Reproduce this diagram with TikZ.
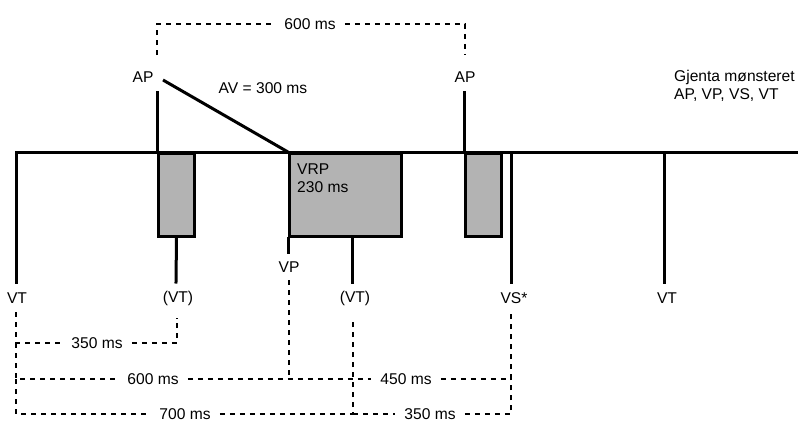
\documentclass[tikz,border=0pt]{standalone}
\usepackage{fontspec}
\setmainfont{Liberation Sans}
\usepackage{xcolor}
\usepackage{tikz}
\usetikzlibrary{positioning, calc}
\definecolor{vrpGray}{HTML}{B3B3B3}
\definecolor{dimInk}{HTML}{000000}
\tikzset{
  pulse/.style={
    draw=black, line width=3pt, line cap=rect
  },
  refbox/.style={
    rectangle, draw=black, line width=3pt,
    fill=vrpGray, inner sep=0pt,
    anchor=north west
  },
  dim/.style={
    draw=dimInk, line width=1.2pt,
    dash pattern=on 5pt off 5pt
  },
  lbl/.style={font=\fontsize{15.6}{18}\selectfont, inner sep=1pt},
  dimlbl/.style={lbl, inner xsep=9pt, inner ysep=0pt}
}

\begin{document}
\begin{tikzpicture}[x=1pt, y=-1pt]
  \useasboundingbox (0,0) rectangle (798,424);

  % markers and labels
  \node[lbl] (ap1) at (143,77) {AP};
  \node[lbl] (ap2) at (465,77) {AP};
  \node[lbl] (av) at (263,88) {AV = 300 ms};
  \node[lbl, align=left, anchor=west] (rep) at (673,86) {Gjenta mønsteret\\AP, VP, VS, VT};
  \node[lbl] (vt1) at (17,298) {VT};
  \node[lbl] (vt2) at (178,298) {(VT)};
  \node[lbl] (vp) at (289,267) {VP};
  \node[lbl] (vt3) at (355,298) {(VT)};
  \node[lbl] (vs) at (514,298) {VS*};
  \node[lbl] (vt4) at (667,298) {VT};

  % refractory boxes
  \node[refbox, minimum width=36pt, minimum height=83pt] (arp1) at (157,152) {};
  \node[refbox, minimum width=112pt, minimum height=83pt] (vrp) at (288,152) {};
  \node[refbox, minimum width=36pt, minimum height=83pt] (arp2) at (464,152) {};
  \node[lbl, align=left, anchor=west] (vrptxt) at (296,178) {VRP\\230 ms};

  % line ends
  \coordinate (vtAend) at (16,282);
  \coordinate (lineEnd) at (798,152);
  \coordinate (ap1top) at (157,92);
  \coordinate (avstart) at (163,80);
  \coordinate (ap2top) at (464,92);
  \coordinate (vt2end) at (176,282);
  \coordinate (vpend) at (288,252);
  \coordinate (vt3end) at (352,282);
  \coordinate (vsend) at (511,282);
  \coordinate (vt4end) at (664,282);

  \draw[pulse] (vtAend) |- (lineEnd);
  \draw[pulse] (ap1top) -- (arp1.north west);
  \draw[pulse] (arp1.south) -- (vt2end);
  \draw[pulse, line cap=butt] (avstart) -- (vrp.north west);
  \draw[pulse] (vrp.south west) -- (vpend);
  \draw[pulse] (vt3end |- vrp.south) -- (vt3end);
  \draw[pulse] (ap2top) -- (arp2.north west);
  \draw[pulse] (vsend |- lineEnd) -- (vsend);
  \draw[pulse] (vt4end |- lineEnd) -- (vt4end);

  % intervals
  \node[dimlbl] (d600top) at (310,24) {600 ms};
  \node[dimlbl] (d350a) at (97,343) {350 ms};
  \node[dimlbl] (d600) at (153,379) {600 ms};
  \node[dimlbl] (d450) at (406,379) {450 ms};
  \node[dimlbl] (d700) at (185,414) {700 ms};
  \node[dimlbl] (d350b) at (430,414) {350 ms};

  \coordinate (ap1dim) at (157,55);
  \coordinate (ap2dim) at (465,55);
  \coordinate (vtAdim) at (16,312);
  \coordinate (vt2dim) at (177,318);
  \coordinate (vpdim) at (289,280);
  \coordinate (vt3dim) at (353,318);
  \coordinate (vsdim) at (511,312);

  \draw[dim] (ap1dim) |- (d600top);
  \draw[dim] (d600top) -| (ap2dim);

  \draw[dim] (vtAdim) |- (d350a);
  \draw[dim] (d350a) -| (vt2dim);
  \draw[dim] (vtAdim |- d350a) |- (d600);
  \draw[dim] (vtAdim |- d600) |- (d700);
  \draw[dim] (d600) -- (d450);
  \draw[dim] (vpdim) -- (vpdim |- d600);
  \draw[dim] (d450) -| (vsdim);
  \draw[dim] (d700) -| (vt3dim);
  \draw[dim] (vt3dim |- d700) -- (d350b);
  \draw[dim] (d350b) -| (vsdim |- d450);
\end{tikzpicture}
\end{document}
